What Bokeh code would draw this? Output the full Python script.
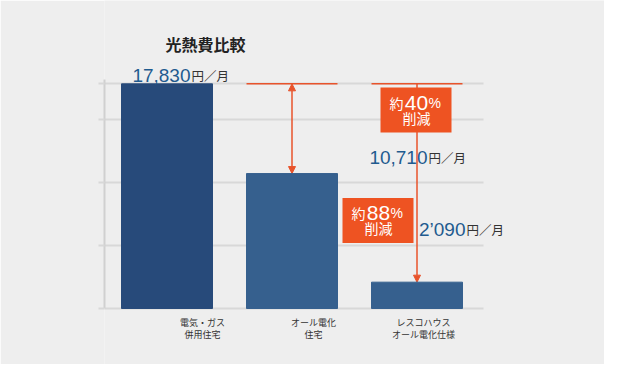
from bokeh.plotting import figure
from bokeh.models import Range1d, FixedTicker, Label, Arrow, NormalHead, ColumnDataSource
from bokeh.embed import file_html
from bokeh.resources import INLINE

# ---------------- data ----------------
title_text = "光熱費比較"
categories = ["電気・ガス\n併用住宅", "オール電化\n住宅", "レスコハウス\nオール電化仕様"]
costs = [17830, 10710, 2090]
cost_labels = ["17,830", "10,710", "2’090"]
unit_label = "円／月"
reduction_pct = ["40", "88"]
reduction_word = "削減"
reduction_prefix = "約"
y_ticks = [0, 5000, 10000, 15000, costs[0]]
axis_top = 18175

# ---------------- style / layout ----------------
RED = "#e8532b"
ORANGE = "#ee5322"
BLUE_TXT = "#1f5b8f"
BAR_COLORS = ["#274a7a", "#36608e", "#36608e"]
BG = "#eeeeee"
GRID = "#d8d8d8"
JP = "Noto Sans CJK JP"
LAT = "Liberation Sans"

W, H = 604, 364
AXIS_PX = 104          # left edge of plotting frame (y axis position)
BASE_PX = 308          # pixel row of value 0
PX_PER_UNIT_Y = 0.0126
PX_PER_UNIT_X = 125.0
kx = 1 / PX_PER_UNIT_X
ky = 1 / PX_PER_UNIT_Y
X0 = -0.5
X1 = X0 + (W - AXIS_PX) * kx
Y1 = BASE_PX * ky
Y0 = -(H - BASE_PX) * ky
BAR_W = 0.728
GRID_RIGHT = 2.532

p = figure(width=W, height=H, x_range=Range1d(X0, X1), y_range=Range1d(Y0, Y1),
           output_backend="svg", toolbar_location=None, x_axis_location=None,
           min_border_left=AXIS_PX, min_border_right=0,
           min_border_top=0, min_border_bottom=0,
           background_fill_color=BG, border_fill_color=BG,
           outline_line_color=None)

p.xgrid.visible = False
ya = p.yaxis[0]
ya.ticker = FixedTicker(ticks=y_ticks)
ya.bounds = (0, axis_top)
ya.major_label_overrides = {t: "" for t in y_ticks}
ya.axis_line_color = "#d0d0d0"
ya.axis_line_width = 2
ya.major_tick_in = 0
ya.major_tick_out = 6
ya.major_tick_line_color = GRID
ya.major_tick_line_width = 2
ya.minor_tick_line_color = None
p.ygrid.ticker = FixedTicker(ticks=y_ticks)
p.ygrid.cross_bounds = (X0, GRID_RIGHT)
p.ygrid.grid_line_color = GRID
p.ygrid.grid_line_width = 2

idx = list(range(len(costs)))
src = ColumnDataSource(dict(x=idx, top=costs, color=BAR_COLORS))
p.vbar(x="x", top="top", bottom=0, width=BAR_W, fill_color="color",
       line_color="color", source=src)

# red reference lines at the top cost level
p.segment(x0=[i - BAR_W / 2 for i in idx[1:]], y0=[costs[0]] * 2,
          x1=[i + BAR_W / 2 for i in idx[1:]], y1=[costs[0]] * 2,
          line_color=RED, line_width=1.5)

def head():
    return NormalHead(size=7, fill_color=RED, line_color=RED, line_width=1)

a1 = Arrow(start=head(), end=head(), x_start=1, y_start=costs[1], x_end=1, y_end=costs[0],
           line_color=RED, line_width=1.5, level="underlay")
a2 = Arrow(start=None, end=head(), x_start=2, y_start=costs[0], x_end=2, y_end=costs[2],
           line_color=RED, line_width=1.5, level="underlay")
p.add_layout(a1)
p.add_layout(a2)

# reduction boxes
box_x = [2 - 1 * kx, 2 - 39 * kx]
box_y = [costs[0] - 26.2 * ky, costs[2] + 61.7 * ky]
p.rect(x=box_x, y=box_y, width=71, height=45, width_units="screen", height_units="screen",
       fill_color=ORANGE, line_color=None)

def lab(x, y, text, dx=0, dy=0, size="12px", font=JP, color="#333333", align="left",
        baseline="alphabetic", style="normal", lh=1.2):
    p.add_layout(Label(x=x, y=y, x_offset=dx, y_offset=dy, text=text, text_font=font,
                       text_font_size=size, text_color=color, text_align=align,
                       text_baseline=baseline, text_font_style=style, text_line_height=lh))

for b in range(2):
    bx, by = box_x[b], box_y[b]
    lab(bx, by, reduction_prefix, -12.5, 7, "14px", JP, "white", "right")
    lab(bx, by, reduction_pct[b], 0.5, 7.5, "21px", LAT, "white", "center")
    lab(bx, by, "%", 12.5, 7, "14px", LAT, "white", "left")
    lab(bx, by, reduction_word, 0.5, -7.5, "14px", JP, "white", "center", "middle")

# title
lab(0, axis_top, title_text, 38.5, 35, "16px", JP, "#222222", "center", "middle", "bold")

# value labels
num_dx = [23.5, 135.5, 48.5]
num_dy = [8.8, 16.5, 52.2]
for i in idx:
    lab(i, costs[i], cost_labels[i], num_dx[i], num_dy[i], "19px", LAT, BLUE_TXT, "right")
    lab(i, costs[i], unit_label, num_dx[i] + 1, num_dy[i], "12.5px", JP, "#333333", "left")

# category labels
cat_dx = [35.5, 21.5, 6.5]
for i in idx:
    lab(i, 0, categories[i], cat_dx[i], -20, "9px", JP, "#333333", "center", "middle", lh=0.9)

open("out.html", "w").write(file_html(p, INLINE))
